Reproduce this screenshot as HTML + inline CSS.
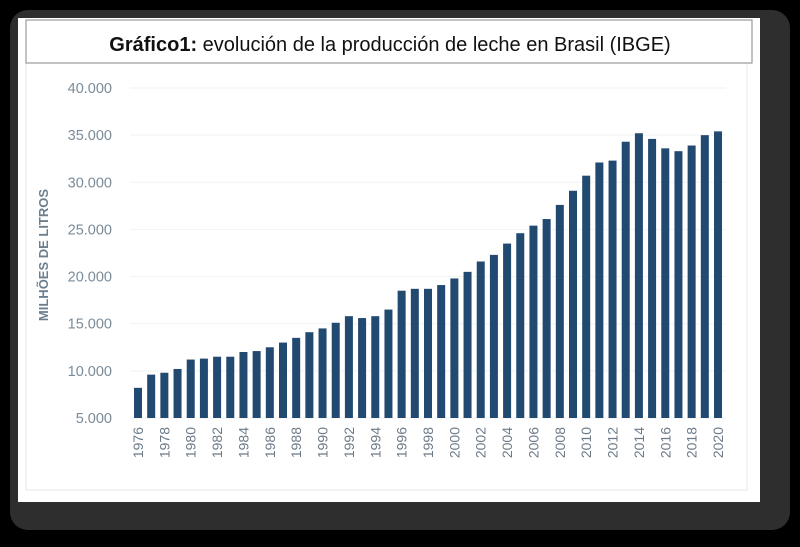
<!DOCTYPE html>
<html><head><meta charset="utf-8"><style>
body{margin:0;background:#000;width:800px;height:542px;overflow:hidden;font-family:"Liberation Sans",sans-serif}
</style></head><body>
<svg width="800" height="542" viewBox="0 0 800 542" xmlns="http://www.w3.org/2000/svg">
<rect x="10" y="10" width="780" height="520" rx="18" fill="#2e2e2e"/>
<rect x="18" y="18" width="742" height="484" fill="#ffffff"/>
<rect x="26" y="63" width="721" height="427" fill="none" stroke="#e6e8ea" stroke-width="1"/>
<rect x="26" y="20" width="726" height="43" fill="#fff" stroke="#9a9a9a" stroke-width="1.2"/>
<text x="390" y="51" text-anchor="middle" font-size="20" fill="#111"><tspan font-weight="bold">Gráfico1:</tspan> evolución de la producción de leche en Brasil (IBGE)</text>
<text transform="translate(48,255) rotate(-90)" text-anchor="middle" font-size="13" font-weight="bold" fill="#6c7f8f">MILHÕES DE LITROS</text>
<g id="grid"></g><g id="bars"></g><g id="xlabels"></g><g id="ylabels"></g>
</svg>
<script>
const years=[1976,1977,1978,1979,1980,1981,1982,1983,1984,1985,1986,1987,1988,1989,1990,1991,1992,1993,1994,1995,1996,1997,1998,1999,2000,2001,2002,2003,2004,2005,2006,2007,2008,2009,2010,2011,2012,2013,2014,2015,2016,2017,2018,2019,2020];
const production=[8200,9600,9800,10200,11200,11300,11500,11500,12000,12100,12500,13000,13500,14100,14500,15100,15800,15600,15800,16500,18500,18700,18700,19100,19800,20500,21600,22300,23500,24600,25400,26100,27600,29100,30700,32100,32300,34300,35200,34600,33600,33300,33900,35000,35400];
const yTicks=[5000,10000,15000,20000,25000,30000,35000,40000];
const yTickLabels=["5.000","10.000","15.000","20.000","25.000","30.000","35.000","40.000"];
const NS="http://www.w3.org/2000/svg";
const yMin=5000,yMax=40000,yBottom=418,yTop=88;
function yScale(v){return yBottom-(v-yMin)/(yMax-yMin)*(yBottom-yTop);}
const x0=138,x1=718;
function xScale(i){return x0+i*(x1-x0)/(years.length-1);}
const g=document.getElementById('grid'),b=document.getElementById('bars'),xl=document.getElementById('xlabels'),yl=document.getElementById('ylabels');
yTicks.forEach((t,i)=>{
 const l=document.createElementNS(NS,'line');
 l.setAttribute('x1',130);l.setAttribute('x2',726);l.setAttribute('y1',yScale(t));l.setAttribute('y2',yScale(t));
 l.setAttribute('stroke','#f0f2f4');l.setAttribute('stroke-width','1');
 
 
 g.appendChild(l);
 const tx=document.createElementNS(NS,'text');
 tx.setAttribute('x',112);tx.setAttribute('y',yScale(t)+5);tx.setAttribute('text-anchor','end');
 tx.setAttribute('font-size','14.5');tx.setAttribute('fill','#7a8b99');
 tx.textContent=yTickLabels[i];
 
 
 yl.appendChild(tx);
});
years.forEach((yr,i)=>{
 const r=document.createElementNS(NS,'rect');
 const x=xScale(i),y=yScale(production[i]);
 r.setAttribute('x',x-4);r.setAttribute('y',y);r.setAttribute('width',8);r.setAttribute('height',yBottom-y);
 r.setAttribute('fill','#22496f');
 
 
 b.appendChild(r);
 if(i%2===0){
  const t=document.createElementNS(NS,'text');
  t.setAttribute('transform','translate('+(x+5)+',427) rotate(-90)');
  t.setAttribute('text-anchor','end');t.setAttribute('font-size','14');t.setAttribute('fill','#6c7a88');
  t.textContent=yr;
  
  
  xl.appendChild(t);
 }
});
</script>
</body></html>
